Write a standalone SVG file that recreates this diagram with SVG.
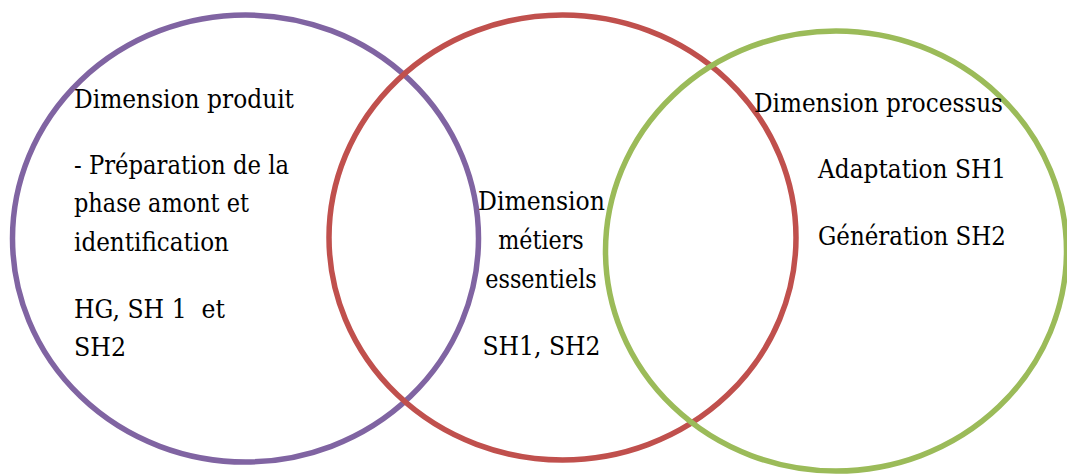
<svg xmlns="http://www.w3.org/2000/svg" width="1067" height="474" viewBox="0 0 1067 474">
<style>
.ring{fill:none;stroke-width:5.5}
.t{font-family:"DejaVu Serif","Liberation Serif",serif;font-size:25.5px;fill:#000}
.c{text-anchor:middle}
</style>
<rect width="1067" height="474" fill="#fff"/>
<g id="connectors"></g>
<g id="produit">
<ellipse class="ring" cx="245.5" cy="238.5" rx="233" ry="223.5" stroke="#8064A2"/>
</g>
<g id="metiers">
<ellipse class="ring" cx="562.5" cy="237.5" rx="233.5" ry="222.5" stroke="#C0504D"/>
</g>
<g id="processus">
<ellipse class="ring" cx="836" cy="251" rx="230.5" ry="220" stroke="#9BBB59"/>
</g>
<g id="produit-text">
<text class="t" x="74" y="108" textLength="220" lengthAdjust="spacingAndGlyphs">Dimension produit</text>
<text class="t" x="74" y="174" textLength="215" lengthAdjust="spacingAndGlyphs">- Préparation de la</text>
<text class="t" x="74" y="212" textLength="175" lengthAdjust="spacingAndGlyphs">phase amont et</text>
<text class="t" x="74" y="251" textLength="155" lengthAdjust="spacingAndGlyphs">identification</text>
<text class="t" x="74" y="318" textLength="151" lengthAdjust="spacingAndGlyphs" xml:space="preserve">HG, SH 1  et</text>
<text class="t" x="74" y="356" textLength="52" lengthAdjust="spacingAndGlyphs">SH2</text>
</g>
<g id="metiers-text">
<text class="t c" x="541.5" y="210" textLength="127" lengthAdjust="spacingAndGlyphs">Dimension</text>
<text class="t c" x="541" y="249" textLength="85.5" lengthAdjust="spacingAndGlyphs">métiers</text>
<text class="t c" x="541" y="288" textLength="111.5" lengthAdjust="spacingAndGlyphs">essentiels</text>
<text class="t c" x="541.5" y="355" textLength="118" lengthAdjust="spacingAndGlyphs">SH1, SH2</text>
</g>
<g id="processus-text">
<text class="t" x="754" y="112" textLength="249" lengthAdjust="spacingAndGlyphs">Dimension processus</text>
<text class="t" x="818" y="178" textLength="188" lengthAdjust="spacingAndGlyphs">Adaptation SH1</text>
<text class="t" x="818" y="245" textLength="188" lengthAdjust="spacingAndGlyphs">Génération SH2</text>
</g>
</svg>
